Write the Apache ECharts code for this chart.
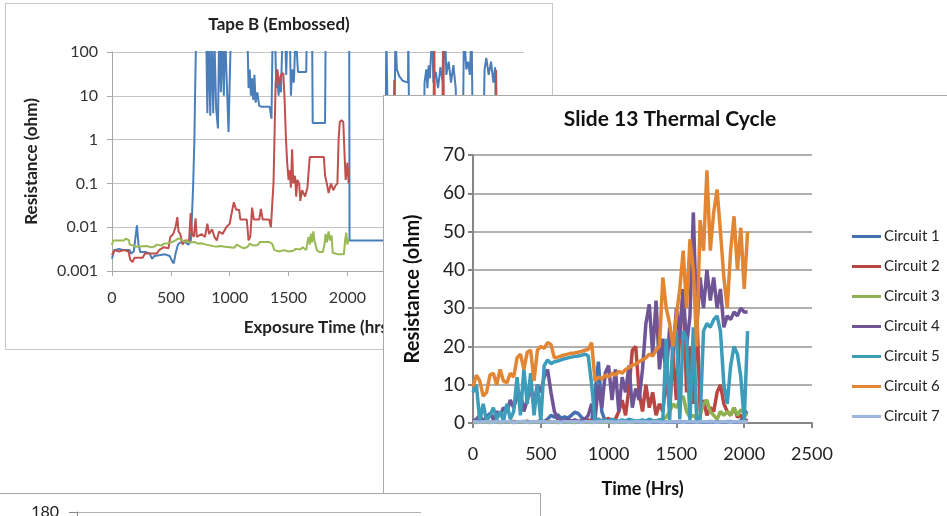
<!DOCTYPE html>
<html>
<head>
<meta charset="utf-8">
<script src="https://cdn.jsdelivr.net/npm/echarts@6/dist/echarts.min.js"></script>
<style>
body { margin:0; width:947px; height:516px; overflow:hidden; background:#fff; position:relative; }
.panel { position:absolute; background:#fff; border:1px solid #c6c6c6; }
#tape { left:5px; top:3px; width:546px; height:345px; z-index:1; }
#slide { left:383px; top:95px; width:600px; height:440px; z-index:2; border-color:#a9a9a9; }
#bottom { left:-1px; top:493px; width:540px; height:260px; z-index:3; border-color:#a9a9a9; }
</style>
</head>
<body>
<div id="tape" class="panel"></div>
<div id="slide" class="panel"></div>
<div id="bottom" class="panel"></div>
<script>
// ---- Tape B (Embossed): [hrs, ohm], null = gap ----
var tapeTicks = ['0.001', '0.01', '0.1', '1', '10', '100'];
var tapeBlue = [
    [0,0.0019],[20,0.003],[60,0.0032],[100,0.003],[150,0.003],[160,0.0025],[185,0.0028],[200,0.006],[212,0.011],[225,0.004],
    [240,0.0027],[290,0.0027],[320,0.0025],[340,0.0019],[360,0.0022],[400,0.0023],[450,0.0024],[490,0.0022],[510,0.0017],[525,0.0015],
    [540,0.0025],[560,0.004],[580,0.0045],[620,0.0046],[650,0.004],[670,0.005],[680,0.02],[690,0.1],[700,1],[705,8],
    [715,300],[800,300],[810,4],[820,300],[835,3.5],[845,300],[860,4],[870,200],[885,5],[900,1.8],
    [910,300],[925,12],[935,300],[950,10],[960,300],[990,1.5],[1000,1.4],[1010,300],[1150,300],[1160,15],
    [1170,40],[1180,10],[1190,25],[1200,8],[1210,30],[1220,7],[1235,12],[1250,6],[1270,5.6],[1340,5.6],
    [1355,3],[1365,300],[1385,300],[1395,15],[1405,30],[1415,10],[1425,25],[1435,12],[1450,300],[1470,300],
    [1480,30],[1490,300],[1510,300],[1520,10],[1530,40],[1545,20],[1560,300],[1575,300],[1580,35],[1650,35],
    [1655,300],[1700,300],[1705,2.4],[1810,2.4],[1815,300],[2015,300],[2018,0.005],[2320,0.005],[2330,300],[2345,1],
    [2400,1],[2407,300],[2420,40],[2440,28],[2470,22],[2515,20],[2517,300],[2525,1],[2650,1],[2655,20],
    [2670,40],[2680,15],[2690,50],[2700,25],[2720,300],[2730,20],[2750,35],[2770,15],[2790,45],[2810,20],
    [2830,300],[2840,30],[2860,60],[2880,20],[2900,50],[2920,15],[2930,1],[2980,1],[2990,300],[3010,40],
    [3025,60],[3040,30],[3055,300],[3065,1],[3155,1],[3165,40],[3180,73],[3200,30],[3220,60],[3240,20],
    [3255,45],[3265,1]
];
var tapeRed = [
    [0,0.0023],[20,0.003],[60,0.0028],[100,0.003],[140,0.0028],[155,0.0018],[175,0.0016],[190,0.002],[260,0.002],[280,0.0025],
    [380,0.0025],[400,0.003],[440,0.0035],[480,0.0033],[495,0.006],[520,0.007],[540,0.01],[555,0.017],[565,0.008],[580,0.007],
    [600,0.004],[620,0.005],[655,0.005],[668,0.021],[680,0.007],[695,0.006],[710,0.016],[720,0.006],[760,0.007],[790,0.006],
    [810,0.012],[825,0.007],[850,0.009],[870,0.006],[890,0.005],[910,0.008],[940,0.007],[970,0.01],[1000,0.012],[1015,0.02],
    [1035,0.037],[1055,0.025],[1080,0.025],[1090,0.015],[1145,0.015],[1160,0.005],[1175,0.006],[1190,0.028],[1205,0.015],[1250,0.015],
    [1265,0.026],[1280,0.015],[1335,0.015],[1350,0.01],[1365,0.05],[1372,0.1],[1380,1],[1390,20],[1405,40],[1420,18],
    [1435,30],[1455,33],[1465,10],[1478,1],[1488,0.3],[1500,0.12],[1510,0.2],[1520,0.08],[1530,0.6],[1540,0.1],
    [1555,0.15],[1565,0.05],[1575,0.12],[1590,0.1],[1600,0.04],[1615,0.07],[1640,0.05],[1660,0.08],[1680,0.4],[1800,0.4],
    [1810,0.15],[1825,0.1],[1840,0.06],[1860,0.1],[1880,0.07],[1900,0.09],[1915,0.1],[1925,1],[1935,2.5],[1950,2.8],
    [1965,2.5],[1975,0.5],[1985,0.12],[2000,0.3],[2010,0.1],[2012,null],[2390,1],[2398,23],[2402,1],[2730,1],
    [2737,300],[2745,1],[2805,1],[2813,300],[2822,1],[3255,1],[3263,39],[3270,1]
];
var tapeGreen = [
    [0,0.0039],[10,0.005],[100,0.005],[120,0.0055],[145,0.005],[150,0.004],[180,0.0038],[200,0.0036],[300,0.0037],[330,0.0035],
    [360,0.0036],[380,0.004],[420,0.0038],[440,0.0042],[480,0.0043],[500,0.0045],[520,0.0047],[540,0.005],[560,0.0055],[590,0.0052],
    [610,0.0047],[640,0.0048],[660,0.0045],[700,0.0046],[730,0.0042],[760,0.0043],[800,0.004],[840,0.0038],[880,0.0036],[920,0.0037],
    [960,0.0036],[1000,0.0035],[1040,0.0034],[1060,0.004],[1090,0.0036],[1120,0.0033],[1150,0.0035],[1170,0.0042],[1200,0.0038],[1240,0.0039],
    [1255,0.0046],[1330,0.0046],[1360,0.0042],[1380,0.003],[1420,0.0028],[1460,0.003],[1500,0.0028],[1540,0.0029],[1560,0.0032],[1600,0.0031],
    [1620,0.0035],[1650,0.003],[1660,0.0045],[1670,0.006],[1680,0.004],[1690,0.007],[1700,0.0045],[1710,0.008],[1720,0.005],[1740,0.003],
    [1760,0.0027],[1790,0.0027],[1805,0.004],[1815,0.007],[1825,0.0045],[1840,0.008],[1850,0.005],[1865,0.0065],[1875,0.0026],[1920,0.0024],
    [1970,0.0024],[1980,0.005],[1990,0.0075],[2000,0.004],[2010,0.0055]
];

// ---- Slide 13 Thermal Cycle ----
var hrs = [
    0,25,50,75,100,125,150,175,200,225,
    250,275,300,325,350,375,400,425,450,475,
    500,525,550,575,600,625,650,675,700,725,
    750,775,800,825,850,875,900,925,950,975,
    1000,1025,1050,1075,1100,1125,1150,1175,1200,1225,
    1250,1275,1300,1325,1350,1375,1400,1425,1450,1475,
    1500,1525,1550,1575,1600,1625,1650,1675,1700,1725,
    1750,1775,1800,1825,1850,1875,1900,1925,1950,1975,
    2000,2025
];
var circuit1 = [
    0.3,0.2,0.4,0.3,0.2,0.3,0.4,0.2,0.3,0.3,
    0.2,0.4,0.3,0.2,0.3,0.4,0.2,0.3,0.3,0.2,
    0.3,0.4,1.0,2.0,1.5,2.2,1.2,1.6,1.3,2.0,
    2.8,2.5,1.5,0.8,0.5,0.4,8,16,3,0.4,
    0.3,0.2,0.4,0.3,0.2,0.3,0.4,0.2,0.3,0.3,
    0.2,0.4,0.3,0.2,0.3,0.4,0.2,0.3,0.3,0.2,
    0.3,0.4,0.2,0.3,0.3,0.2,0.4,0.3,0.2,0.3,
    0.4,0.2,0.3,0.3,0.2,0.4,0.3,0.2,0.3,0.5,
    2.5,3
];
var circuit2 = [
    0.2,0.3,0.5,0.2,0.3,0.2,0.4,0.3,0.2,0.5,
    0.3,0.2,0.4,0.3,0.2,0.3,0.5,0.2,0.3,0.4,
    0.6,0.3,0.5,0.2,0.3,0.4,0.2,0.3,0.5,0.3,
    0.2,0.4,0.3,0.5,0.8,0.4,0.6,1.0,0.5,0.8,
    1.2,0.6,1.0,3,6,2,9,19,20,8,
    3,10,4,8,2,5,3,12,4,18,
    6,24,35,8,20,5,30,3,6,2,
    4,3,8,10,5,3,2,4,1.5,2,
    1,0.5
];
var circuit3 = [
    0.2,0.1,0.3,0.2,0.2,0.1,0.3,0.2,0.1,0.2,
    0.3,0.2,0.1,0.2,0.3,0.2,0.2,0.1,0.3,0.2,
    0.4,0.3,0.2,0.3,0.2,0.1,0.2,0.3,0.2,0.2,
    0.1,0.3,0.2,0.2,0.3,0.1,0.2,0.3,0.2,0.2,
    0.3,0.2,0.1,0.3,0.2,0.4,0.3,0.2,0.5,0.3,
    0.4,0.3,0.6,0.4,0.5,0.8,1,1.5,3,5,
    4,6,7,3,1.5,2,1,2,5,6,
    3,2,1,3,2,3,2,4,2,3.5,
    2.5,2
];
var circuit4 = [
    0.5,1,2,0.5,1.5,2.5,1,3,2,4,
    3,6,4,7,8,3,6,9,5,10,
    8,12,14,8,3,1,0.5,0.5,1,0.5,
    0.8,0.4,0.6,1,2,5,1,10,4,13,
    15,6,14,3,12,8,15,4,9,6,
    14,26,31,18,32,14,22,12,25,18,
    30,22,35,20,28,55,25,38,30,40,
    32,38,30,35,25,28,27,29,28,30,
    29,29
];
var circuit5 = [
    8,10,0.5,5,0.5,2,4,1,3,0.5,
    5,1,3,12,2,14,5,13,2,10,
    0.5,15,16.5,15.5,16,16.2,16.5,16.8,17,17.2,
    17.4,17.5,17.7,18,17.5,10,0.5,1,0.5,0.8,
    0.5,1,0.6,0.5,0.8,0.5,1,0.7,0.5,0.6,
    0.8,0.5,1,0.6,0.5,0.8,1,22,0.5,23,
    24,1,24,22,0.5,25,0.5,1,24,26,
    25,27,28,24,10,5,15,20,18,12,
    0.5,24
];
var circuit6 = [
    9.5,12.5,11,7,8,12.5,13,10,14,11,
    10.5,13,12,17,18,14,18.5,19,11,19,
    20,19.5,21,20.5,17,17.2,17.5,17.8,18,18.2,
    18.3,18.5,18.7,19,19.2,21,11,12,11.5,12.5,
    12,13,12.5,13.5,13,14,14.5,15,15.5,16,
    16.5,17,18,17.5,19,20,38,30,26,20,
    28,35,45,30,48,40,20,53,45,66,
    45,55,61,50,38,30,45,54,40,51,
    35,50
];
var circuit7 = [
    0.3,0.3,0.2,0.3,0.3,0.3,0.2,0.3,0.3,0.3,
    0.3,0.3,0.2,0.3,0.3,0.3,0.2,0.3,0.3,0.3,
    0.3,0.3,0.2,0.3,0.3,0.3,0.2,0.3,0.3,0.3,
    0.3,0.3,0.2,0.3,0.3,0.3,0.2,0.3,0.3,0.3,
    0.3,0.3,0.2,0.3,0.3,0.3,0.2,0.3,0.3,0.3,
    0.3,0.3,0.2,0.3,0.3,0.3,0.2,0.3,0.3,0.3,
    0.3,0.3,0.2,0.3,0.3,0.3,0.2,0.3,0.3,0.3,
    0.3,0.3,0.2,0.3,0.3,0.3,0.2,0.3,0.3,0.3,
    0.3,0.3
];
var circuitNames = ['Circuit 1', 'Circuit 2', 'Circuit 3', 'Circuit 4', 'Circuit 5', 'Circuit 6', 'Circuit 7'];
var circuitColors = ['#4470b0', '#b94642', '#8fb04f', '#6f5596', '#3d9cb9', '#e38634', '#9bb5dc'];
var circuitValues = [circuit1, circuit2, circuit3, circuit4, circuit5, circuit6, circuit7];

// ---- bottom chart (only its top edge shows) ----
var bottomMax = 180;

var FONT = 'Lato, "Liberation Sans", sans-serif';

function draw(id, option) {
    var dom = document.getElementById(id);
    var myChart = echarts.init(dom);
    myChart.setOption(option, true);
}

function pairs(xs, ys) {
    var out = [];
    for (var i = 0; i < xs.length; i++) out.push([xs[i], ys[i]]);
    return out;
}

function plain(v) { return String(v); }

// back chart
draw('tape', {
    animation: false,
    title: {
        text: 'Tape B (Embossed)', left: 273, top: 12, padding: 0, textAlign: 'center',
        textStyle: { fontFamily: FONT, fontSize: 17, fontWeight: 'bold', color: '#222' }
    },
    grid: { left: 106, top: 48, width: 412, height: 219 },
    xAxis: {
        type: 'value', min: 0, max: 3500, interval: 500,
        name: 'Exposure Time (hrs)', nameLocation: 'middle', nameGap: 48,
        nameTextStyle: { fontFamily: FONT, fontSize: 17, fontWeight: 'bold', color: '#222' },
        axisLine: { lineStyle: { color: '#a8a8a8' } },
        axisTick: { show: true, length: 5, lineStyle: { color: '#a8a8a8' } },
        axisLabel: { margin: 19, fontFamily: FONT, fontSize: 16, color: '#333', formatter: plain },
        splitLine: { show: false }
    },
    yAxis: {
        type: 'log', logBase: 10, min: 0.001, max: 100,
        name: 'Resistance (ohm)', nameLocation: 'middle', nameGap: 72, nameRotate: 90,
        nameTextStyle: { fontFamily: FONT, fontSize: 17, fontWeight: 'bold', color: '#222' },
        axisLine: { show: true, lineStyle: { color: '#a8a8a8' } },
        axisTick: { show: true, length: 5, lineStyle: { color: '#a8a8a8' } },
        axisLabel: {
            margin: 14, fontFamily: FONT, fontSize: 16, color: '#333',
            formatter: function (v) { return tapeTicks[Math.round(Math.log10(v)) + 3]; }
        },
        splitLine: { lineStyle: { color: '#c4c4c4' } },
        minorTick: { show: false }
    },
    series: [
        { type: 'line', data: tapeBlue, symbol: 'none', lineStyle: { color: '#4a7ebb', width: 2 } },
        { type: 'line', data: tapeRed, symbol: 'none', lineStyle: { color: '#c0504d', width: 2 } },
        { type: 'line', data: tapeGreen, symbol: 'none', lineStyle: { color: '#98b954', width: 2 } }
    ]
});

// front chart
var slideSeries = [];
for (var k = 0; k < circuitNames.length; k++) {
    slideSeries.push({
        name: circuitNames[k], type: 'line', symbol: 'none',
        data: pairs(hrs, circuitValues[k]),
        itemStyle: { color: circuitColors[k] },
        lineStyle: { color: circuitColors[k], width: 3.5 }
    });
}
draw('slide', {
    animation: false,
    color: circuitColors,
    title: {
        text: 'Slide 13 Thermal Cycle', left: 286, top: 13, padding: 0, textAlign: 'center',
        textStyle: { fontFamily: FONT, fontSize: 21, fontWeight: 'bold', color: '#111' }
    },
    legend: {
        orient: 'vertical', left: 468, top: 133, icon: 'rect', itemWidth: 29, itemHeight: 3, itemGap: 15,
        padding: 0,
        textStyle: { fontFamily: FONT, fontSize: 15, lineHeight: 14, color: '#222', padding: [0, 0, 0, -2] },
        data: circuitNames
    },
    grid: { left: 89, top: 59, width: 339, height: 268 },
    xAxis: {
        type: 'value', min: 0, max: 2500, interval: 500,
        name: 'Time (Hrs)', nameLocation: 'middle', nameGap: 57,
        nameTextStyle: { fontFamily: FONT, fontSize: 18, fontWeight: 'bold', color: '#111' },
        axisLine: { lineStyle: { color: '#868686', width: 2 } },
        axisTick: { show: true, length: 5, lineStyle: { color: '#868686', width: 2 } },
        axisLabel: { margin: 22, fontFamily: FONT, fontSize: 18, color: '#222', formatter: plain },
        splitLine: { show: false }
    },
    yAxis: {
        type: 'value', min: 0, max: 70, interval: 10,
        name: 'Resistance (ohm)', nameLocation: 'middle', nameGap: 50, nameRotate: 90,
        nameTextStyle: { fontFamily: FONT, fontSize: 20, fontWeight: 'bold', color: '#111' },
        axisLine: { show: true, lineStyle: { color: '#868686', width: 2 } },
        axisTick: { show: true, length: 5, lineStyle: { color: '#868686', width: 2 } },
        axisLabel: { margin: 8, fontFamily: FONT, fontSize: 19, color: '#222' },
        splitLine: { lineStyle: { color: '#b0b0b0', width: 2 } }
    },
    series: slideSeries
});

// bottom chart
draw('bottom', {
    animation: false,
    grid: { left: 77, top: 18, width: 344, height: 200 },
    xAxis: { type: 'value', show: false, min: 0, max: 1 },
    yAxis: {
        type: 'value', min: 0, max: bottomMax, interval: 20,
        axisLine: { show: true, lineStyle: { color: '#868686' } },
        axisTick: { show: true, length: 8, lineStyle: { color: '#868686' } },
        axisLabel: { margin: 18, fontFamily: FONT, fontSize: 16, color: '#222' },
        splitLine: { lineStyle: { color: '#b0b0b0' } }
    },
    series: [{ type: 'line', data: [] }]
});
</script>
</body>
</html>
